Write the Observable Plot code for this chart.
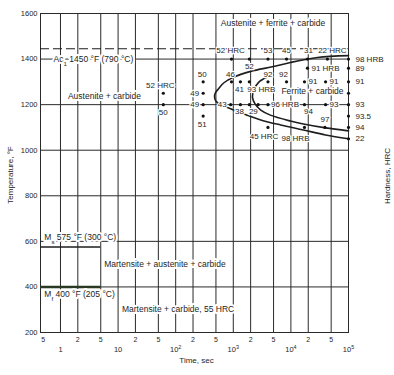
<!DOCTYPE html>
<html>
<head>
<meta charset="utf-8">
<script src="https://cdn.jsdelivr.net/npm/d3@7"></script>
<script src="https://cdn.jsdelivr.net/npm/@observablehq/plot@0.6"></script>
<style>
  html, body { margin: 0; padding: 0; background: #fff; }
  svg { display: block; }
</style>
</head>
<body>
<div id="chart"></div>
<script>
// ---------- axes / ticks ----------
const tempTicks = [200, 400, 600, 800, 1000, 1200, 1400, 1600];
const gridTimes = [1, 2, 5, 10, 20, 50, 100, 200, 500, 1000, 2000, 5000, 10000, 20000, 50000];
const minorTickTimes = [0.5, 2, 5, 20, 50, 200, 500, 2000, 5000, 20000, 50000];
const minorTickLabels = ["5", "2", "5", "2", "5", "2", "5", "2", "5", "2", "5"];
const decadeTimes = [1, 10, 100, 1000, 10000, 100000];
const decadeLabels = ["1", "10", "10^{2}", "10^{3}", "10^{4}", "10^{5}"];

// ---------- critical temperatures ----------
const ac1Temp = 1445;     // dashed Ac1 line
const msTemp = 575;       // Ms
const mfTemp = 400;       // Mf
const quenchEndTime = 5;  // Ms / Mf segments end at 5 s

// ---------- transformation curves (time s, temperature °F) ----------
const startTimes = [100000, 29000, 9800, 5000, 2000, 1000, 680, 555, 490, 472, 500, 650, 900, 1330, 3000, 6600, 16500, 40000, 100000];
const startTemps = [1415, 1407, 1385, 1367, 1346, 1320, 1295, 1270, 1252, 1238, 1215, 1196, 1182, 1164, 1133, 1111, 1089, 1067, 1050];
const finishTimes = [3800, 2750, 2300, 2150, 2400, 3000, 4400, 9800, 16500, 40000, 100000];
const finishTemps = [1320, 1298, 1267, 1233, 1202, 1176, 1154, 1128, 1115, 1098, 1085];

// ---------- hardness measurement points ----------
const pointTimes = [61, 61, 300, 300, 300, 300,
  930, 1900, 4000, 8400, 19400, 43000, 100000,
  19400, 100000,
  930, 1330, 1900, 4000, 8400, 17200, 40000, 100000,
  100000,
  900, 1330, 1900, 2700, 4000, 17200, 40000, 100000,
  100000,
  4000, 17200, 39000, 100000,
  100000];
const pointTemps = [1250, 1200, 1300, 1250, 1200, 1150,
  1400, 1400, 1400, 1400, 1400, 1400, 1400,
  1360, 1360,
  1300, 1300, 1300, 1300, 1300, 1300, 1300, 1300,
  1250,
  1200, 1200, 1200, 1200, 1200, 1200, 1200, 1200,
  1150,
  1100, 1100, 1100, 1100,
  1050];
const pointHardness = ["52 HRC", "50", "50", "49", "49", "51",
  "52 HRC", "52", "53", "45", "31", "22 HRC", "98 HRB",
  "91 HRB", "89",
  "46", "41", "93 HRB", "92", "92", "91", "91", "91",
  "",
  "43", "38", "29", "", "96 HRB", "94", "93", "93",
  "93.5",
  "45 HRC", "98 HRB", "97", "94",
  "22"];

// label placement (style only): [dx, dy, anchor]
const B = [0, 8, "middle"], R = [4, 0, "start"], RR = [7, 0, "start"], L = [-4, 0, "end"];
const labelLayout = [[-3, -8, "middle"], B, [-1, -7, "middle"], L, L, [-1, 8, "middle"],
  [-1, -9, "middle"], [0, 7, "middle"], [0, -9, "middle"], [0, -9, "middle"], [1, -9, "middle"], [5, -9, "middle"], RR,
  R, RR,
  [-1, -7, "middle"], [-1, 8, "middle"], [-2, 8, "start"], [0, -7, "middle"], [-3, -7, "middle"], R, R, RR,
  RR,
  L, [-1, 7, "middle"], [4, 7, "middle"], R, [3, 0, "start"], [4, 7, "middle"], R, RR,
  RR,
  [-4, 9, "middle"], [-9, 11, "middle"], [0, -8, "middle"], RR,
  RR];

const startCurve = startTimes.map((t, i) => ({t, T: startTemps[i]}));
const finishCurve = finishTimes.map((t, i) => ({t, T: finishTemps[i]}));
const points = pointTimes.map((t, i) => ({t, T: pointTemps[i], label: pointHardness[i]}));
const minorTicks = minorTickTimes.map((t, i) => ({t, label: minorTickLabels[i]}));
const decadeTicks = decadeTimes.map((t, i) => ({t, label: decadeLabels[i]}));

const xDomain = [0.45, 100000];
const yDomain = [200, 1600];
const ink = "#1e1e1e";

const halo = {fill: ink, stroke: "white", strokeWidth: 3, paintOrder: "stroke"};

const labelMarks = points.map((p, i) => {
  if (!p.label) return null;
  const [dx, dy, anchor] = labelLayout[i];
  return Plot.text([p], {x: "t", y: "T", text: "label", dx, dy, textAnchor: anchor, fontSize: 8, ...halo, strokeWidth: 2.5});
}).filter(Boolean);

const chart = Plot.plot({
  width: 394,
  height: 375,
  marginLeft: 40,
  marginRight: 46,
  marginTop: 13,
  marginBottom: 43,
  x: {type: "log", domain: xDomain, axis: null},
  y: {domain: yDomain, axis: null},
  style: {fontFamily: "'Liberation Sans', Arial, Helvetica, sans-serif", fontSize: "7.5px", color: ink, background: "#fff"},
  marks: [
    // grid
    Plot.ruleY(tempTicks, {stroke: "#2a2a2a", strokeWidth: 1}),
    Plot.ruleX(gridTimes, {stroke: "#2a2a2a", strokeWidth: 1}),
    Plot.frame({stroke: "#2a2a2a", strokeWidth: 1}),
    // critical temperatures
    Plot.ruleY([ac1Temp], {stroke: ink, strokeWidth: 1.1, strokeDasharray: "9,4"}),
    Plot.ruleY([msTemp], {x1: xDomain[0], x2: quenchEndTime, stroke: ink, strokeWidth: 1.4}),
    Plot.ruleY([mfTemp], {x1: xDomain[0], x2: quenchEndTime, stroke: "#2b3a22", strokeWidth: 2.4}),
    // transformation curves
    Plot.line(startCurve, {x: "t", y: "T", curve: "catmull-rom", stroke: ink, strokeWidth: 1.6}),
    Plot.line(finishCurve, {x: "t", y: "T", curve: "catmull-rom", stroke: ink, strokeWidth: 1.6}),
    // annotations
    Plot.text(["Ac_{1} 1450 °F (790 °C)"], {x: 0.76, y: 1400, textAnchor: "start", fontSize: 8.5, ...halo, strokeWidth: 4}),
    Plot.text(["M_{s} 575 °F (300 °C)"], {x: 0.525, y: 616, textAnchor: "start", fontSize: 8.5, ...halo, strokeWidth: 4}),
    Plot.text(["M_{f} 400 °F (205 °C)"], {x: 0.525, y: 366, textAnchor: "start", fontSize: 8.5, ...halo, strokeWidth: 4}),
    Plot.text(["Austenite + ferrite + carbide"], {x: 4890, y: 1555, fontSize: 8.5, ...halo, strokeWidth: 4}),
    Plot.text(["Austenite + carbide"], {x: 5.8, y: 1235, fontSize: 8.5, ...halo, strokeWidth: 4}),
    Plot.text(["Ferrite + carbide"], {x: 23700, y: 1257, fontSize: 8.5, ...halo, strokeWidth: 3}),
    Plot.text(["Martensite + austenite + carbide"], {x: 65, y: 498, fontSize: 8.5, ...halo, strokeWidth: 4}),
    Plot.text(["Martensite + carbide, 55 HRC"], {x: 110, y: 301, fontSize: 8.5, ...halo, strokeWidth: 4}),
    // measurement points
    Plot.dot(points, {x: "t", y: "T", r: 1.6, fill: "#111", stroke: null}),
    ...labelMarks,
    // axes
    Plot.text(tempTicks, {x: () => xDomain[0], y: d => d, text: d => String(d), dx: -3, textAnchor: "end", fontSize: 7.5, fill: ink}),
    Plot.text(minorTicks, {x: "t", y: () => yDomain[0], text: "label", dy: 7, fontSize: 7, fill: ink}),
    Plot.text(decadeTicks, {x: "t", y: () => yDomain[0], text: "label", dy: 17, fontSize: 7.5, fill: ink}),
    Plot.text(["Temperature, °F"], {frameAnchor: "left", textAnchor: "middle", rotate: -90, dx: -30, dy: 2, fontSize: 8}),
    Plot.text(["Hardness, HRC"], {frameAnchor: "right", textAnchor: "middle", rotate: -90, dx: 39, dy: 3, fontSize: 8}),
    Plot.text(["Time, sec"], {frameAnchor: "bottom", dx: 2, dy: 30, fontSize: 8})
  ]
});

// render _{sub} and ^{sup} markup as tspans
function applyRich(svg) {
  const NS = "http://www.w3.org/2000/svg";
  for (const t of svg.querySelectorAll("text")) {
    const leaves = t.querySelector("tspan") ? [...t.querySelectorAll("tspan")] : [t];
    for (const n of leaves) {
      const s = n.textContent;
      if (!/[_^]\{/.test(s)) continue;
      n.textContent = "";
      const re = /([_^])\{([^}]*)\}|([^_^]+)/g;
      let m;
      while ((m = re.exec(s))) {
        const sp = document.createElementNS(NS, "tspan");
        if (m[1]) {
          sp.textContent = m[2];
          sp.setAttribute("font-size", "72%");
          sp.setAttribute("baseline-shift", m[1] === "^" ? "super" : "sub");
        } else {
          sp.textContent = m[3];
        }
        n.appendChild(sp);
      }
    }
  }
}
applyRich(chart);
document.getElementById("chart").appendChild(chart);
</script>
</body>
</html>
